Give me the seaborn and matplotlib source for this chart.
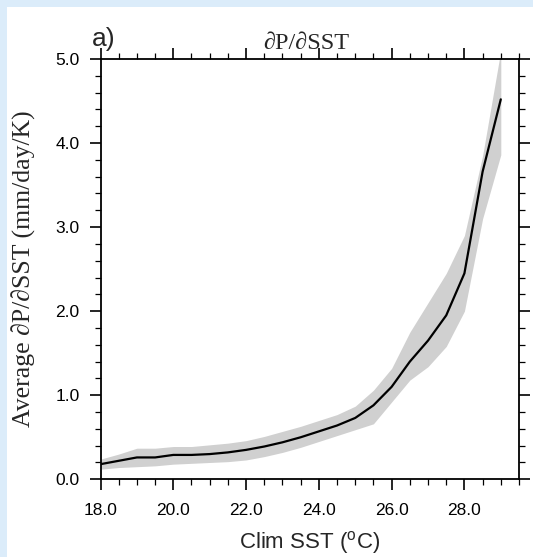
import matplotlib
matplotlib.use("Agg")
import matplotlib.pyplot as plt
from matplotlib.patches import Rectangle
from matplotlib.ticker import MultipleLocator, FormatStrFormatter
import seaborn as sns
import pandas as pd

# ---- data ----
sst = [18.0, 18.5, 19.0, 19.5, 20.0, 20.5, 21.0, 21.5, 22.0, 22.5, 23.0, 23.5,
       24.0, 24.5, 25.0, 25.5, 26.0, 26.5, 27.0, 27.5, 28.0, 28.5, 29.0]
mean = [0.18, 0.22, 0.26, 0.26, 0.29, 0.29, 0.30, 0.32, 0.35, 0.39, 0.44, 0.50,
        0.57, 0.64, 0.73, 0.88, 1.10, 1.40, 1.65, 1.95, 2.45, 3.66, 4.52]
lower = [0.12, 0.14, 0.15, 0.16, 0.18, 0.19, 0.20, 0.21, 0.23, 0.27, 0.32, 0.38,
         0.45, 0.52, 0.59, 0.66, 0.92, 1.18, 1.34, 1.58, 2.00, 3.10, 3.86]
upper = [0.24, 0.30, 0.37, 0.37, 0.39, 0.39, 0.41, 0.43, 0.46, 0.51, 0.57, 0.63,
         0.70, 0.77, 0.87, 1.06, 1.32, 1.75, 2.10, 2.45, 2.90, 3.85, 5.10]
xticks = [18.0, 20.0, 22.0, 24.0, 26.0, 28.0]
yticks = [0.0, 1.0, 2.0, 3.0, 4.0, 5.0]

df = pd.DataFrame({"sst": sst, "mean": mean, "lower": lower, "upper": upper})

sns.set_style("ticks")
plt.rcParams["font.family"] = ["Liberation Sans", "DejaVu Sans"]
plt.rcParams["mathtext.fontset"] = "custom"
plt.rcParams["mathtext.rm"] = "Liberation Sans"

W, H = 533, 557
fig = plt.figure(figsize=(W / 100, H / 100), dpi=100)
fig.patch.set_facecolor("#dbecfa")
fig.patches.append(Rectangle((7 / W, 0), 1 - 7 / W, 1 - 7 / H, transform=fig.transFigure,
                             facecolor="white", edgecolor="none", zorder=-10))

ax = fig.add_axes([100.5 / W, 1 - 479.3 / H, 418.5 / W, 420.3 / H])
ax.set_zorder(5)
ax.set_facecolor("white")

ax.fill_between(df["sst"], df["lower"], df["upper"], color="#d0d0d0", linewidth=0, zorder=1)
sns.lineplot(data=df, x="sst", y="mean", ax=ax, color="black", linewidth=1.6, zorder=2)

ax.set_xlim(18.0, 29.5)
ax.set_ylim(0.0, 5.0)
ax.set_xticks(xticks)
ax.set_yticks(yticks)
ax.xaxis.set_minor_locator(MultipleLocator(0.5))
ax.yaxis.set_minor_locator(MultipleLocator(0.2))
ax.xaxis.set_major_formatter(FormatStrFormatter("%.1f"))
ax.yaxis.set_major_formatter(FormatStrFormatter("%.1f"))

for s in ax.spines.values():
    s.set_visible(True)
    s.set_linewidth(1.3)
    s.set_color("black")

ax.tick_params(which="both", direction="out", top=True, right=True,
               labeltop=False, labelright=False, colors="black")
ax.tick_params(which="major", length=8, width=1.2, labelsize=12.5)
ax.tick_params(which="minor", length=4, width=0.9)
ax.tick_params(axis="x", which="major", pad=9)
ax.tick_params(axis="y", which="major", pad=7)

ax.set_xlabel("Clim SST ($^{\\rm o}$C)", fontsize=16)
ax.xaxis.set_label_coords(0.5, -0.118)
ax.set_ylabel("Average \u2202P/\u2202SST (mm/day/K)", fontsize=18.5,
              family=["Liberation Serif", "DejaVu Serif"])
ax.yaxis.set_label_coords(-0.155, 0.5)

ax.text(0.491, 1.024, "\u2202P/\u2202SST", transform=ax.transAxes, ha="center", va="baseline",
        fontsize=17.5, family=["Liberation Serif", "DejaVu Serif"])
ax.text(-0.02, 1.03, "a)", transform=ax.transAxes, ha="left", va="baseline", fontsize=19)

fig.savefig("out.png", dpi=100, facecolor=fig.get_facecolor())
